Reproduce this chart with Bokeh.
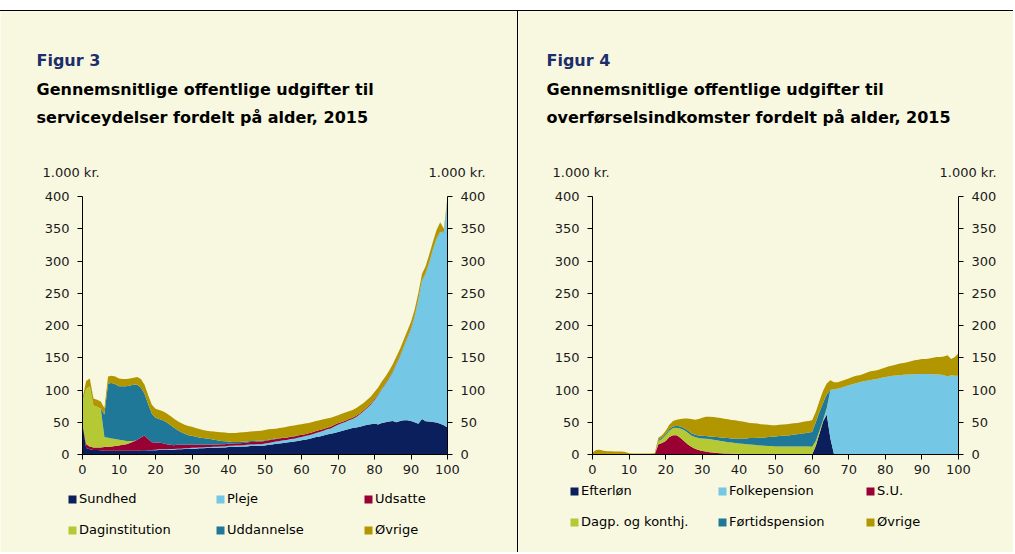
from bokeh.plotting import figure
from bokeh.models import (ColumnDataSource, Range1d, LinearAxis, SingleIntervalTicker,
                          Label, Legend, LegendItem)
from bokeh.core.properties import value
from bokeh.layouts import row
from bokeh.embed import file_html
from bokeh.resources import INLINE

ages = list(range(101))

# ---------------- Figur 3: serviceydelser (1.000 kr.) ----------------
sundhed = ([47, 10, 8, 7, 7, 6.5, 6, 6, 6, 6] +
           [6, 6, 6, 6, 6, 6, 6.5, 6.5, 6.5, 6.5] +
           [6.5, 7, 7, 7, 7.5, 7.5, 8, 8, 8.5, 8.5] +
           [9, 9, 9.5, 9.5, 10, 10, 10.5, 10.5, 11, 11] +
           [11.5, 11.5, 12, 12, 12.5, 12.5, 13, 13, 13.5, 13.5] +
           [14, 15, 15.5, 16.5, 17, 18, 18.5, 19.5, 20, 21] +
           [22, 23, 24, 25.5, 27, 28, 29.5, 31, 32, 33.5] +
           [35, 36.5, 38, 39.5, 41, 42, 43, 44.5, 46, 47] +
           [48, 46.5, 49, 50, 51, 52, 50, 52, 53, 53] +
           [52, 50, 47.5, 55, 51.5, 51, 50.5, 49.5, 47.5, 45.5] +
           [42])
pleje = ([0] * 10 +
         [0, 0, 0, 0, 0, 0, 0, 0, 0.5, 0.5] +
         [1] * 10 +
         [1.5] * 10 +
         [2, 2, 2, 2, 2, 2.5, 2.5, 2.5, 2.5, 2.5] +
         [3, 3, 3.5, 3.5, 4, 4, 4, 4.5, 4.5, 5] +
         [5, 5.5, 6, 6, 6.5, 7, 7.5, 8, 8.5, 10] +
         [11, 12, 12.5, 13.5, 14, 16, 19.5, 22.5, 26, 30.5] +
         [36.5, 45.5, 52, 59, 67, 76, 90.5, 100.5, 113.5, 128] +
         [143, 164.5, 192, 214.5, 229, 246.5, 267, 285, 298, 299] +
         [353.5])
udsatte = ([2, 6, 4.5, 4, 4, 4.5, 5.5, 6, 6.5, 7] +
           [8, 9, 10, 12, 14, 17, 20, 23, 17, 12] +
           [11, 10.5, 9.5, 8, 6.5, 6, 6, 6, 5.5, 5.5] +
           [5, 4.5, 4.5, 4, 4, 4, 3.5, 3.5, 3.5, 3.5] +
           [3.5, 3.5, 3.5, 3.5, 3.5, 3.5, 4, 4, 4, 4] +
           [4, 4, 4, 4, 4, 4, 3.5, 3.5, 3.5, 3.5] +
           [3.5, 3, 3, 3, 3, 3, 2.5, 2.5, 2.5, 2.5] +
           [2.5, 2, 2, 2, 2, 2, 1.5, 1.5, 1.5, 1.5] +
           [1.5, 1, 1, 1, 1, 1, 1, 1, 1, 1] +
           [1, 0.5, 0.5, 0.5, 0.5, 0.5, 0.5, 0.5, 0.5, 0.5] +
           [0.5])
daginstitution = ([33, 86, 93.5, 65, 63, 60, 15.5, 14, 12.5, 11] +
                  [9, 7, 5, 3, 1, 0, 0, 0, 0, 0] +
                  [0] * 81)
uddannelse = ([0, 0, 0, 0, 0, 0, 35, 84, 86, 85] +
              [83, 84, 85, 86, 87, 85, 77.5, 64.5, 54, 44] +
              [38.5, 36.5, 35.5, 34, 31, 27.5, 23, 20, 17, 15] +
              [13.5, 12.5, 11, 10.5, 9.5, 8.5, 7.5, 6.5, 5, 4.5] +
              [3, 2.5, 2, 2, 2, 1.5, 1.5, 1.5, 1.5, 1.5] +
              [1, 1, 1, 1, 0.5, 0.5, 0.5, 0.5, 0.5, 0.5] +
              [0] * 41)
ovrige3 = ([5, 12, 12, 11, 11, 11, 10, 11, 11, 12] +
           [12, 11, 11, 11, 11, 12, 13, 14, 14, 14] +
           [14] * 10 +
           [14, 13.5, 13, 12.5, 12, 12, 12.5, 13, 13.5, 13.5] +
           [13.5, 14, 14, 14.5, 14.5, 15, 14.5, 15, 15, 15.5] +
           [16, 16, 15.5, 15, 15.5, 15.5, 16.5, 16, 16.5, 16] +
           [16.5, 16.5, 16, 16, 15.5, 15, 15, 14.5, 14, 13] +
           [12.5, 12.5, 12.5, 12, 12, 12, 12, 11.5, 11.5, 11] +
           [11, 11, 11, 11, 11, 11, 10.5, 10.5, 10.5, 10] +
           [10, 10, 10, 10, 11, 12, 12, 13, 14, 5] +
           [4])
labels3 = ["Sundhed", "Pleje", "Udsatte", "Daginstitution", "Uddannelse", "Øvrige"]

# ---------------- Figur 4: overførselsindkomster (1.000 kr.) ----------------
efterlon = [0] * 61 + [13, 32, 51, 62, 25] + [0] * 35
folkepension = ([0] * 64 + [8, 75, 101, 102, 103.5, 105.5] +
                [107.5, 109, 110.5, 112, 113.5, 114.5, 115.5, 116.5, 117.5, 119] +
                [120, 121, 122, 122.5, 123, 123.5, 124, 124, 124.5, 125] +
                [125, 125, 125, 124.5, 124, 124, 123, 121, 123, 122] +
                [122])
su = ([0] * 18 +
      [16, 18, 21, 27, 30, 30, 26, 21, 16, 12, 9, 7] +
      [5.5, 4.5, 3.5, 3, 2.5, 2, 1.5, 1.5, 1, 1] +
      [1, 0.5, 0.5, 0.5, 0.5, 0.5] +
      [0] * 55)
dagpenge = ([0] * 18 +
            [5, 6, 9, 10, 11, 11.5, 14.5, 17, 18, 17.5, 18, 18.5] +
            [19.5, 20, 20.5, 20, 19.5, 19, 18.5, 17.5, 17.5, 17] +
            [16, 16, 15.5, 15, 14.5, 14, 14, 13.5, 13, 13] +
            [12.5] * 10 +
            [12, 8, 5, 3, 2] +
            [0] * 36)
fortid = ([0] * 18 +
          [2, 2, 2, 2.5, 2.5, 3, 3, 3, 3.5, 3.5, 3.5, 4] +
          [4, 4, 4, 4.5, 5, 5.5, 6, 6.5, 6.5, 7] +
          [8, 8.5, 9, 10, 10.5, 11.5, 12, 13, 14, 14.5] +
          [15.5, 16, 16.5, 17, 17.5, 18.5, 19, 20, 20.5, 21.5] +
          [23, 29, 29, 26, 21] +
          [0] * 36)
ovrige4 = ([3, 7, 7.5, 6, 5, 5, 4.5, 4.5, 4.5, 4] +
           [2, 1.5, 1.5, 1.5, 1.5, 1.5, 1.5, 2] +
           [3, 4, 5, 6.5, 8.5, 9.5, 11.5, 15, 18.5, 22, 23.5, 25.5] +
           [28, 30, 30.5, 30.5, 30.5, 30, 29.5, 29, 28.5, 28] +
           [27, 26, 25, 23.5, 23, 22, 21, 20, 19, 18] +
           [17.5] * 8 + [18, 18] +
           [18, 16, 17, 19, 17, 15, 11, 10, 10.5, 10.5] +
           [10.5, 11, 11.5, 11, 11.5, 12.5, 13.5, 13.5, 13.5, 14] +
           [15, 16, 16, 17, 18, 18.5, 19, 20.5, 21.5, 22] +
           [23, 23, 24, 25.5, 27, 27, 29, 33, 25, 29] +
           [35])
labels4 = ["Efterløn", "Folkepension", "S.U.", "Dagp. og konthj.", "Førtidspension", "Øvrige"]

x_min, x_max, x_step = 0, 100, 10
y_min, y_max, y_step = 0, 400, 50

COLORS = ["#0B1F5C", "#74C7E5", "#990033", "#B5C935", "#1F7898", "#B19600"]
BG = "#F8F8E1"
FONT = "DejaVu Sans"

# page layout (pixels)
TOP = 11          # canvas top (after 10px margin + 1px rule)
H = 542           # canvas height
PLOT_TOP, PLOT_BOTTOM = 196, 454


def panel(series, labels, fig_txt, title1, title2, canvas_left, width,
          plot_left, plot_right, styles):
    names = [f"s{i}" for i in range(len(series))]
    data = {"age": ages}
    for n, s in zip(names, series):
        data[n] = s
    src = ColumnDataSource(data)

    # map the whole canvas so that the data rectangle lands on the plot area
    kx = (plot_right - plot_left) / (x_max - x_min)
    ky = (PLOT_BOTTOM - PLOT_TOP) / (y_max - y_min)
    bottom = TOP + H
    xr = Range1d(x_min - (plot_left - canvas_left) / kx,
                 x_min - (plot_left - canvas_left) / kx + width / kx)
    yr = Range1d(y_min - (bottom - PLOT_BOTTOM) / ky,
                 y_min - (bottom - PLOT_BOTTOM) / ky + H / ky)

    p = figure(width=width, height=H, min_border=0,
               x_range=xr, y_range=yr,
               toolbar_location=None, output_backend="svg",
               background_fill_color=BG, border_fill_color=BG,
               outline_line_color=None, margin=(10, 0, 0, 0), styles=styles)
    rs = p.varea_stack(stackers=names, x="age", color=COLORS, source=src)

    p.add_layout(LinearAxis(), "right")
    p.xaxis.ticker = SingleIntervalTicker(interval=x_step, num_minor_ticks=0)
    p.yaxis.ticker = SingleIntervalTicker(interval=y_step, num_minor_ticks=0)
    p.xaxis.fixed_location = y_min
    p.xaxis.bounds = (x_min, x_max)
    p.yaxis[0].fixed_location = x_min
    p.yaxis[1].fixed_location = x_max
    p.yaxis.bounds = (y_min, y_max)
    p.grid.visible = False
    for ax in p.axis:
        ax.axis_line_color = "#000000"
        ax.axis_line_width = 1
        ax.major_tick_line_color = "#000000"
        ax.major_tick_in = 0
        ax.major_tick_out = 5
        ax.minor_tick_line_color = None
        ax.major_label_text_font = FONT
        ax.major_label_text_font_size = "13px"
        ax.major_label_text_color = "#1a1a1a"
        ax.major_label_standoff = 8
    p.xaxis.major_label_standoff = 5

    def lab(px, py, text, size="13px", bold=False, color="#1a1a1a"):
        p.add_layout(Label(x=px - canvas_left, y=bottom - py,
                           x_units="screen", y_units="screen", text=text,
                           text_font=FONT, text_font_size=size,
                           text_font_style="bold" if bold else "normal",
                           text_color=color, text_align="left",
                           text_baseline="alphabetic"))

    tx = plot_left - 46
    lab(tx, 60, fig_txt, "16px", True, "#1B2F6B")
    lab(tx, 89, title1, "16px", True, "#000000")
    lab(tx, 117, title2, "16px", True, "#000000")
    lab(plot_left - 40, 172, "1.000 kr.")
    lab(plot_right - 19, 172, "1.000 kr.")
    return p, rs, bottom


def add_legend(p, rs, labels, canvas_left, bottom, px, row_centers):
    # glyph box 10x10 (area legend glyph is inset by 10% -> 8x8 square)
    for idx, cy in zip((range(0, 3), range(3, 6)), row_centers):
        items = [LegendItem(label=value(labels[i]), renderers=[rs[i]]) for i in idx]
        leg = Legend(items=items, location=(px - 1 - canvas_left, bottom - (cy + 5)),
                     orientation="horizontal",
                     glyph_width=10, glyph_height=10, label_height=10, label_width=120,
                     label_standoff=2, spacing=16, padding=0, margin=0,
                     border_line_color=None, background_fill_alpha=0,
                     label_text_font=FONT, label_text_font_size="13px",
                     label_text_color="#000000")
        p.add_layout(leg)


p3, r3, b3 = panel([sundhed, pleje, udsatte, daginstitution, uddannelse, ovrige3], labels3,
                   "Figur 3", "Gennemsnitlige offentlige udgifter til",
                   "serviceydelser fordelt på alder, 2015",
                   0, 517, 82, 447, {"border-top": "1px solid #000000"})
add_legend(p3, r3, labels3, 0, b3, 68, (501, 532))

p4, r4, b4 = panel([efterlon, folkepension, su, dagpenge, fortid, ovrige4], labels4,
                   "Figur 4", "Gennemsnitlige offentlige udgifter til",
                   "overførselsindkomster fordelt på alder, 2015",
                   518, 496, 592, 958,
                   {"border-top": "1px solid #000000", "border-left": "1px solid #000000"})
add_legend(p4, r4, labels4, 518, b4, 570, (493, 524))

layout = row(p3, p4)
open("out.html", "w").write(file_html(layout, INLINE))
